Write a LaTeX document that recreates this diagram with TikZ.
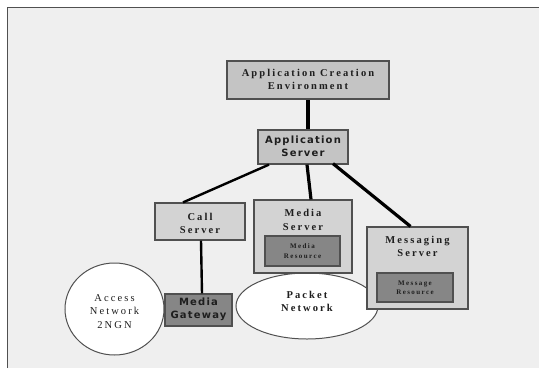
\documentclass[tikz,border=0pt]{standalone}
\usepackage{fontspec}
\usetikzlibrary{shapes.geometric}
\setmainfont{Liberation Serif}
\newfontfamily\spc[LetterSpace=20]{Liberation Serif}
\newfontfamily\cmc[LetterSpace=12]{DejaVu Sans}
\definecolor{bg}{HTML}{EFEFEF}
\definecolor{edge}{HTML}{505050}
\definecolor{txt}{HTML}{1E1E1E}
\definecolor{boxa}{HTML}{C4C4C4}
\definecolor{boxb}{HTML}{D3D3D3}
\definecolor{boxd}{HTML}{868686}
\begin{document}
\begin{tikzpicture}[x=1pt,y=-1pt,
  boxstyle/.style={draw=edge,line width=1.2pt,inner sep=0pt,rectangle},
  serifbold/.style={font=\spc\fontsize{10.5}{13.5}\selectfont\bfseries,text=txt,align=center,inner sep=0pt},
  serifsmall/.style={font=\spc\fontsize{7}{9.5}\selectfont\bfseries,text=txt,align=center,inner sep=0pt},
  serifreg/.style={font=\spc\fontsize{10.5}{13.5}\selectfont,text=txt,align=center,inner sep=0pt},
  comic/.style={font=\cmc\fontsize{10}{13}\selectfont\bfseries,text=txt,align=center,inner sep=0pt},
  thickline/.style={line width=3.2pt,black},
  thinline/.style={line width=2.4pt,black}]
\useasboundingbox (0,0) rectangle (539,368);
\fill[white] (0,0) rectangle (539,368);
\fill[bg] (7.5,7.5) rectangle (539,368);
\draw[draw=edge,line width=1.5pt] (7.5,368) -- (7.5,7.5) -- (539,7.5);
% network shapes
\node[draw=edge,fill=white,line width=1pt,ellipse,minimum width=99pt,minimum height=92pt,inner sep=0pt] (acc) at (114.5,309) {};
\node[serifreg] (acct) at (114.5,311.5) {Access\\Network\\2NGN};
\node[draw=edge,fill=white,line width=1pt,ellipse,minimum width=142pt,minimum height=66pt,inner sep=0pt] (pkt) at (307,306) {};
\node[serifbold] (pktt) at (307,301.5) {Packet\\Network};
% boxes
\node[boxstyle,fill=boxa,minimum width=162pt,minimum height=38pt] (ace) at (308,80) {};
\node[serifbold] (acet) at (308,79.5) {Application Creation\\Environment};
\node[boxstyle,fill=boxa,minimum width=90pt,minimum height=34pt] (app) at (303,147) {};
\node[comic] (appt) at (303,146.5) {Application\\Server};
\node[boxstyle,fill=boxb,minimum width=90pt,minimum height=37pt] (call) at (200,221.5) {};
\node[serifbold] (callt) at (200,223.5) {Call\\Server};
\node[boxstyle,fill=boxb,minimum width=98pt,minimum height=73pt] (ms) at (303,236.5) {};
\node[serifbold] (mst) at (303,220) {Media\\Server};
\node[boxstyle,fill=boxd,minimum width=75pt,minimum height=30pt] (mr) at (302.5,251) {};
\node[serifsmall] (mrt) at (302.5,251) {Media\\Resource};
\node[boxstyle,fill=boxb,minimum width=101pt,minimum height=82pt] (msg) at (417.5,268) {};
\node[serifbold] (msgt) at (417.5,246.5) {Messaging\\Server};
\node[boxstyle,fill=boxd,minimum width=76pt,minimum height=29pt] (mrs) at (415,287.5) {};
\node[serifsmall] (mrst) at (415,287.5) {Message\\Resource};
\node[boxstyle,fill=boxd,minimum width=67pt,minimum height=32pt] (gw) at (198.5,310) {};
\node[comic] (gwt) at (198.5,309.5) {Media\\Gateway};
% connectors
\draw[thickline] (ace.south) ++(0,0.6) coordinate (a1) -- (a1 |- app.north);
\draw[thinline] ([xshift=-34pt]app.south) -- ([xshift=-17pt]call.north);
\draw[thickline] ([xshift=4pt]app.south) -- ([xshift=8pt]ms.north);
\draw[thickline] ([xshift=30pt,yshift=1pt]app.south) -- ([xshift=-7pt]msg.north);
\draw[thinline] ([xshift=1pt]call.south) -- ([xshift=3.5pt]gw.north);
\end{tikzpicture}
\end{document}
